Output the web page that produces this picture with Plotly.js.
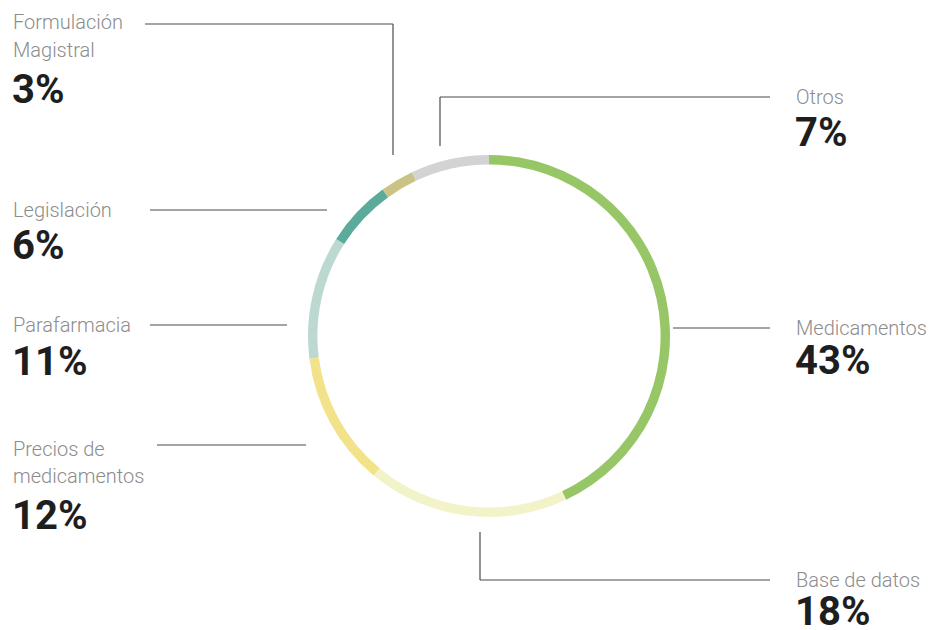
<!DOCTYPE html>
<html>
<head>
<meta charset="utf-8">
<script src="https://cdn.plot.ly/plotly-3.0.1.min.js"></script>
<style>html,body{margin:0;padding:0;background:#fff;}#chart{width:932px;height:630px;}</style>
</head>
<body>
<div id="chart"></div>
<script>
// Data
const categories = ["Medicamentos", "Base de datos", "Precios de medicamentos", "Parafarmacia", "Legislación", "Formulación Magistral", "Otros"];
const shares = [43, 18, 12, 11, 6, 3, 7];
const labelLines = [["Medicamentos"], ["Base de datos"], ["Precios de", "medicamentos"], ["Parafarmacia"], ["Legislación"], ["Formulación", "Magistral"], ["Otros"]];
const colors = ["#97c667", "#f3f3c9", "#f2e38a", "#bcd9d1", "#5aab9b", "#cbc386", "#d3d3d3"];

// Layout helpers (pixel positions of label blocks and leader lines)
const W = 932, H = 630;
const labelPos = [
  {x: 794, lines: [328], pct: 360},
  {x: 794, lines: [580], pct: 611},
  {x: 11, lines: [449, 476], pct: 515},
  {x: 11, lines: [325], pct: 361},
  {x: 11, lines: [210], pct: 245},
  {x: 11, lines: [22, 50], pct: 89},
  {x: 794, lines: [97], pct: 132}
];
const leaders = [
  [[673, 328], [770, 328]],
  [[480, 532], [480, 580], [770, 580]],
  [[157, 445], [306, 445]],
  [[150, 325], [287, 325]],
  [[150, 210], [327, 210]],
  [[145, 24], [393, 24], [393, 155]],
  [[440, 146], [440, 97], [770, 97]]
];

const annotations = [];
categories.forEach((c, i) => {
  const p = labelPos[i];
  labelLines[i].forEach((t, j) => {
    annotations.push({x: p.x, y: p.lines[j], xref: 'x', yref: 'y', text: t, showarrow: false,
      xanchor: 'left', yanchor: 'middle', font: {family: 'Roboto', size: 20, color: '#8c8c8c', weight: 300}});
  });
  annotations.push({x: p.x - 1, y: p.pct, xref: 'x', yref: 'y', text: '<b>' + shares[i] + '%</b>', showarrow: false,
    xanchor: 'left', yanchor: 'middle', font: {family: 'Roboto', size: 40, color: '#1e1e1e'}});
});

const shapes = [];
leaders.forEach(pts => {
  for (let k = 0; k < pts.length - 1; k++) {
    shapes.push({type: 'line', xref: 'x', yref: 'y', x0: pts[k][0], y0: pts[k][1], x1: pts[k+1][0], y1: pts[k+1][1],
      line: {color: '#4a4a4a', width: 1.2}});
  }
});

const cx = 489, cy = 336, R = 181;
const trace = {
  type: 'pie', labels: categories, values: shares, sort: false, direction: 'clockwise', rotation: 0,
  hole: 0.948, textinfo: 'none', hoverinfo: 'label+percent', showlegend: false,
  marker: {colors: colors, line: {width: 0}},
  domain: {x: [(cx - R) / W, (cx + R) / W], y: [(H - cy - R) / H, (H - cy + R) / H]}
};

const layout = {
  width: W, height: H, margin: {l: 0, r: 0, t: 0, b: 0},
  paper_bgcolor: '#fff', plot_bgcolor: 'rgba(0,0,0,0)',
  xaxis: {range: [0, W], visible: false, fixedrange: true},
  yaxis: {range: [H, 0], visible: false, fixedrange: true},
  annotations: annotations, shapes: shapes, showlegend: false
};

Plotly.newPlot('chart', [trace], layout, {displayModeBar: false, staticPlot: true});
</script>
</body>
</html>
